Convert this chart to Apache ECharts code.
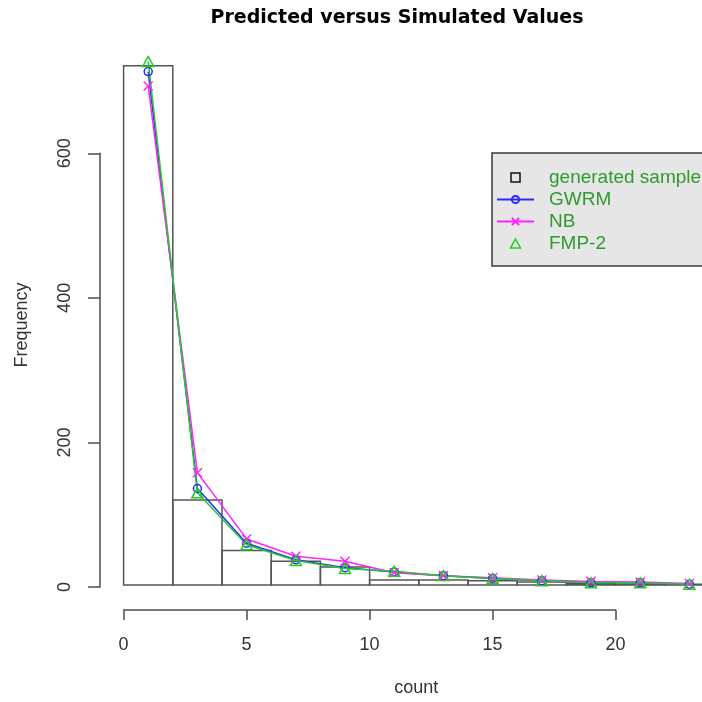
<!DOCTYPE html>
<html>
<head>
<meta charset="utf-8">
<script src="https://cdn.jsdelivr.net/npm/echarts@6/dist/echarts.min.js"></script>
<style>
html,body{margin:0;padding:0;background:#fff;}
#chart{width:702px;height:702px;}
</style>
</head>
<body>
<div id="chart"></div>
<script>
// ---- data ----
const breaks = [0, 2, 4, 6, 8, 10, 12, 14, 16, 18, 20, 22, 24];
const sampleCounts = [721, 118, 48, 33, 25, 7, 7, 6, 4, 2, 1, 1];
const mids = [1, 3, 5, 7, 9, 11, 13, 15, 17, 19, 21, 23];
const gwrm = [713, 134, 58, 35, 24, 18, 13, 9, 6, 3, 3, 1];
const nb   = [693, 156, 64, 40, 33, 17, 13, 10, 7, 5, 4, 2];
const fmp2 = [727, 128, 56, 34, 23, 19, 13, 9, 6, 3, 3, 1];
const xTicks = [0, 5, 10, 15, 20];
const yTicks = [0, 200, 400, 600];

const histData = sampleCounts.map((c, i) => [breaks[i], breaks[i + 1], c]);
const pairs = arr => mids.map((m, i) => [m, arr[i]]);

const FONT = '"Liberation Sans", Arial, sans-serif';
const TXT = '#333';
const AX = '#4d4d4d';
const BLUE = '#2a2aff', MAG = '#ff22ff', GRN = '#22cc22';
const PX_PER_X = 24.6;

const chart = echarts.init(document.getElementById('chart'), null, {renderer: 'canvas'});
chart.setOption({
  animation: false,
  backgroundColor: '#fff',
  title: {
    text: 'Predicted versus Simulated Values',
    left: 397, top: 9, padding: 0, textAlign: 'center',
    textStyle: {fontFamily: '"DejaVu Sans", Verdana, sans-serif', fontWeight: 'bold', fontSize: 19, color: '#000'}
  },
  grid: [
    {left: 123.6, right: 0, top: 65, height: 522, containLabel: false},
    {left: 123.6, width: 492, top: 600, height: 10, containLabel: false},
    {left: 100, width: 10, top: 153.3, height: 433.7, containLabel: false}
  ],
  xAxis: [
    {gridIndex: 0, type: 'value', min: 0, max: (702 - 123.6) / PX_PER_X,
     axisLine: {show: false}, axisTick: {show: false}, axisLabel: {show: false}, splitLine: {show: false},
     name: 'count', nameLocation: 'middle', nameGap: 94,
     nameTextStyle: {fontFamily: FONT, fontSize: 18, color: TXT, padding: [0, 0, 0, 7]}},
    {gridIndex: 1, type: 'value', min: xTicks[0], max: xTicks[xTicks.length - 1], interval: 5,
     axisLine: {show: true, lineStyle: {color: AX, width: 1.5}},
     axisTick: {show: true, inside: false, length: 10, lineStyle: {color: AX, width: 1.5}},
     axisLabel: {show: true, margin: 26, fontFamily: FONT, fontSize: 18, color: TXT},
     splitLine: {show: false}},
    {gridIndex: 2, type: 'value', min: 0, max: 10, show: false}
  ],
  yAxis: [
    {gridIndex: 0, type: 'value', min: 0, max: 522 / 0.7228,
     axisLine: {show: false}, axisTick: {show: false}, axisLabel: {show: false}, splitLine: {show: false},
     name: 'Frequency', nameLocation: 'middle', nameGap: 93,
     nameTextStyle: {fontFamily: FONT, fontSize: 18, color: TXT}},
    {gridIndex: 1, type: 'value', min: 0, max: 1, show: false},
    {gridIndex: 2, type: 'value', min: yTicks[0], max: yTicks[yTicks.length - 1], interval: 200,
     axisLine: {show: true, lineStyle: {color: AX, width: 1.5}},
     axisTick: {show: true, inside: false, length: 12, lineStyle: {color: AX, width: 1.5}},
     axisLabel: {show: true, rotate: 90, margin: 26, fontFamily: FONT, fontSize: 18, color: TXT},
     splitLine: {show: false}}
  ],
  legend: {
    orient: 'vertical', left: 492, top: 153,
    padding: [15, 40, 13, 4],
    itemWidth: 37, itemHeight: 9, itemGap: 3,
    backgroundColor: '#e6e6e6', borderColor: '#3a3a3a', borderWidth: 1.5, borderRadius: 0,
    selectedMode: false,
    textStyle: {fontFamily: FONT, fontSize: 19, lineHeight: 19, color: '#2f9a2f', padding: [0, 0, 0, 10]},
    data: [
      {name: 'generated sample', icon: 'path://M0,0H10V10H0Z',
       itemStyle: {color: 'rgba(0,0,0,0)', borderColor: '#111', borderWidth: 1.5}},
      {name: 'GWRM'},
      {name: 'NB'},
      {name: 'FMP-2', icon: 'path://M5,0L10,9L0,9Z',
       itemStyle: {color: 'rgba(0,0,0,0)', borderColor: GRN, borderWidth: 1.5}}
    ]
  },
  series: [
    {
      name: 'generated sample', type: 'custom', xAxisIndex: 0, yAxisIndex: 0,
      data: histData, encode: {x: [0, 1], y: 2}, clip: false, z: 1,
      itemStyle: {color: 'rgba(0,0,0,0)', borderColor: '#111'},
      renderItem: function (params, api) {
        const p0 = api.coord([api.value(0), api.value(2)]);
        const p1 = api.coord([api.value(1), 0]);
        return {
          type: 'rect',
          shape: {x: p0[0], y: p0[1], width: p1[0] - p0[0], height: p1[1] - p0[1]},
          style: {fill: 'rgba(0,0,0,0)', stroke: '#555', lineWidth: 1.5}
        };
      }
    },
    {
      name: 'GWRM', type: 'line', xAxisIndex: 0, yAxisIndex: 0, data: pairs(gwrm), clip: false, z: 3,
      symbol: 'circle', symbolSize: 8, showAllSymbol: true,
      lineStyle: {color: BLUE, width: 1.5},
      itemStyle: {color: 'rgba(0,0,0,0)', borderColor: BLUE, borderWidth: 1.5}
    },
    {
      name: 'NB', type: 'line', xAxisIndex: 0, yAxisIndex: 0, data: pairs(nb), clip: false, z: 3,
      symbol: 'path://M0,0L10,10M0,10L10,0', symbolSize: 9, showAllSymbol: true,
      lineStyle: {color: MAG, width: 1.5},
      itemStyle: {color: 'rgba(0,0,0,0)', borderColor: MAG, borderWidth: 1.5}
    },
    {
      name: 'FMP-2', type: 'line', xAxisIndex: 0, yAxisIndex: 0, data: pairs(fmp2), clip: false, z: 3,
      symbol: 'path://M5,0L10,9L0,9Z', symbolSize: [11, 10], showAllSymbol: true,
      lineStyle: {color: GRN, width: 1.5},
      itemStyle: {color: 'rgba(0,0,0,0)', borderColor: GRN, borderWidth: 1.5}
    }
  ]
});
</script>
</body>
</html>
